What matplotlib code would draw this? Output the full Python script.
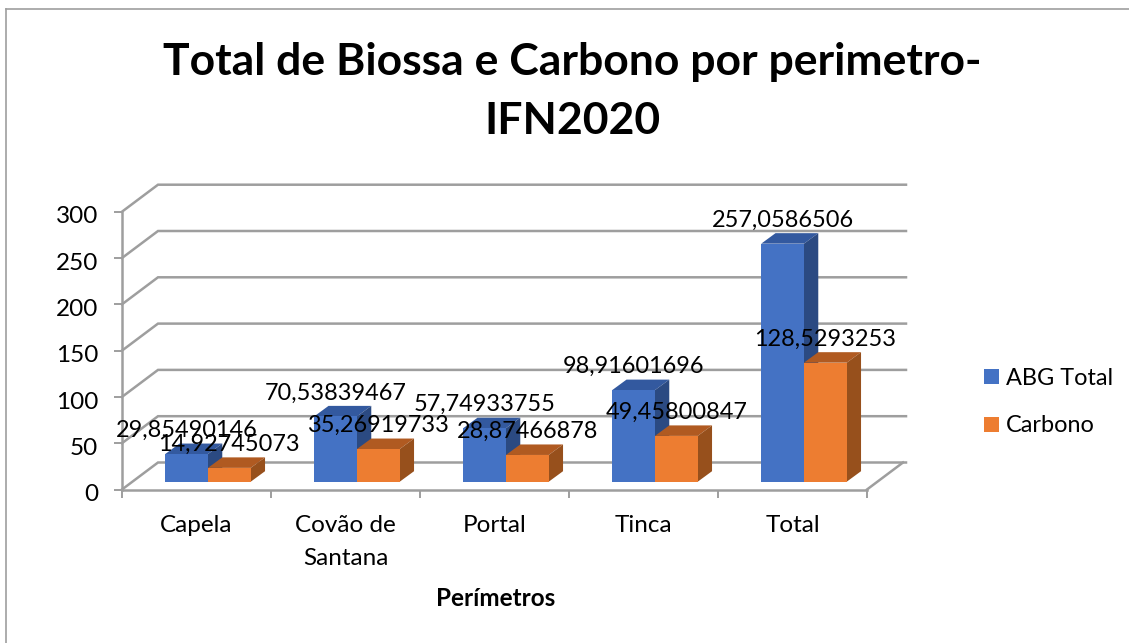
#!/usr/bin/env python3
"""Total de Biossa e Carbono por perimetro - 3D look column chart on plain axes."""

import matplotlib
matplotlib.use("Agg")
import matplotlib.pyplot as plt
from matplotlib.lines import Line2D
from matplotlib.patches import Patch, Polygon
from matplotlib.transforms import ScaledTranslation

plt.rcParams["font.family"] = ["Lato", "DejaVu Sans"]

W, H = 1129, 643

categories = ["Capela", "Covão de\nSantana", "Portal", "Tinca", "Total"]
abg_total = [29.85490146, 70.53839467, 57.74933755, 98.91601696, 257.0586506]
carbono = [14.92745073, 35.26919733, 28.87466878, 49.45800847, 128.5293253]
y_ticks = [0, 50, 100, 150, 200, 250, 300]

INK = "#000000"
GRID = "#9E9E9E"
BLUE = ("#4472C4", "#33599F", "#2B4A82")
ORANGE = ("#ED7D31", "#B05A21", "#97501C")

# axes placement in pixels, and pixel sizes of one category / one unit
LEFT, RIGHT, BOTTOM, TOP = 122, 906, 489.5, 184
CAT_PX = 149.0
UNIT_PX = 0.926

# depth of the wall and of the bars, in data units
WALL_DX, WALL_DY = 36 / CAT_PX, 27 / UNIT_PX
BAR_DX, BAR_DY = 14.3 / CAT_PX, 10.5 / UNIT_PX
BAR_FLOOR = 7.8 / UNIT_PX
BAR_START = 0.29
BAR_W = 0.287


def draw_bars(ax, values, offset, colors, zorder):
    for i, v in enumerate(values):
        x0 = i + BAR_START + offset * BAR_W
        x1 = x0 + BAR_W
        y0 = BAR_FLOOR
        y1 = BAR_FLOOR + v
        ax.add_patch(Polygon([(x0, y1), (x1, y1), (x1 + BAR_DX, y1 + BAR_DY),
                              (x0 + BAR_DX, y1 + BAR_DY)],
                             facecolor=colors[1], edgecolor="none", zorder=zorder))
        ax.add_patch(Polygon([(x1, y0), (x1 + BAR_DX, y0 + BAR_DY),
                              (x1 + BAR_DX, y1 + BAR_DY), (x1, y1)],
                             facecolor=colors[2], edgecolor="none", zorder=zorder))
        ax.bar(x0, v, BAR_W, bottom=y0, align="edge", color=colors[0], zorder=zorder + 0.1)
        ax.annotate(str(v).replace(".", ","), xy=((x0 + x1) / 2, y1),
                    xytext=(0, 23.5 * 0.72), textcoords="offset points",
                    ha="center", va="center", fontsize=16.9, color=INK, zorder=10,
                    annotation_clip=False)


fig = plt.figure(figsize=(W / 100, H / 100), dpi=100, facecolor="white")
ax = fig.add_axes([LEFT / W, 1 - BOTTOM / H, (RIGHT - LEFT) / W, (BOTTOM - TOP) / H])
ax.set_xlim(0, (RIGHT - LEFT) / CAT_PX)
ax.set_ylim(0, (BOTTOM - TOP) / UNIT_PX)
ax.patch.set_alpha(0)

xmax = ax.get_xlim()[1]
for v in y_ticks:
    ax.plot([0, WALL_DX, xmax], [v, v + WALL_DY, v + WALL_DY], color=GRID, lw=1.8,
            zorder=1, clip_on=False, solid_joinstyle="miter")
ax.plot([5, 5 + WALL_DX], [0, WALL_DY], color=GRID, lw=1.8, zorder=1, clip_on=False)

draw_bars(ax, abg_total, 0, BLUE, 3)
draw_bars(ax, carbono, 1, ORANGE, 4)

for side in ("top", "right"):
    ax.spines[side].set_visible(False)
for side in ("left", "bottom"):
    ax.spines[side].set_color(GRID)
    ax.spines[side].set_linewidth(1.8)
ax.spines["left"].set_bounds(0, 300)
ax.spines["bottom"].set_bounds(0, 5)

ax.set_yticks(y_ticks)
ax.set_xticks(range(6))
ax.set_xticklabels([])
ax.set_xticks([i + 0.5 for i in range(5)], labels=categories, minor=True)
ax.tick_params(axis="both", which="major", color=GRID, width=1.4, length=6,
               labelsize=17.5, labelcolor=INK)
ax.tick_params(axis="y", pad=11)
ax.tick_params(axis="x", which="minor", length=0, labelsize=17.5, pad=18)
for lab in ax.get_xticklabels(minor=True):
    lab.set_linespacing(1.75)
# Lato sits high in its box, nudge the value labels down to the ticks
nudge = ScaledTranslation(0, -2.3 / 72, fig.dpi_scale_trans)
for lab in ax.get_yticklabels():
    lab.set_transform(lab.get_transform() + nudge)

ax.set_xlabel("Perímetros", fontsize=17.5, fontweight="bold", color=INK)
ax.xaxis.set_label_coords(495.5 / W, 1 - 598 / H, transform=fig.transFigure)
ax.xaxis.label.set_va("center")

fig.text(572.5 / W, 1 - 91.5 / H, "Total de Biossa e Carbono por perimetro-\nIFN2020",
         ha="center", va="center", fontsize=32, fontweight="bold", color=INK,
         linespacing=1.55)

handles = [Patch(facecolor=BLUE[0], label="ABG Total"),
           Patch(facecolor=ORANGE[0], label="Carbono")]
ax.legend(handles=handles, loc="center left", frameon=False, fontsize=16.9,
          bbox_to_anchor=(984 / W, 1 - 402 / H), bbox_transform=fig.transFigure,
          handlelength=0.63, handleheight=0.63, handletextpad=0.3,
          labelspacing=1.15, borderpad=0, borderaxespad=0)

fig.add_artist(Line2D([5.5 / W, 5.5 / W], [0, 1 - 8.5 / H], color=GRID, lw=1.2))
fig.add_artist(Line2D([5.5 / W, 1], [1 - 8.5 / H, 1 - 8.5 / H], color=GRID, lw=1.2))

fig.savefig("out.png", dpi=100)
